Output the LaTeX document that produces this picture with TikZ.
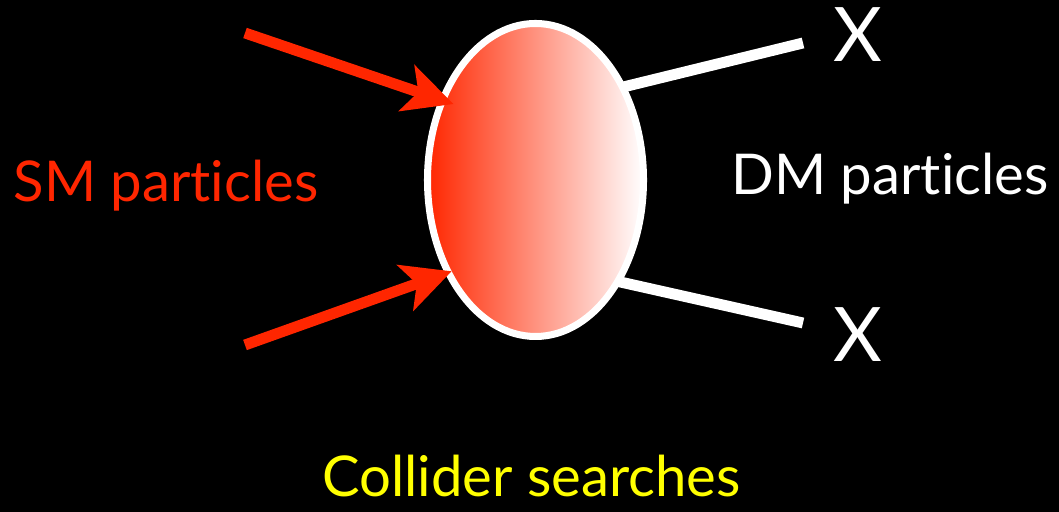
\documentclass[tikz,border=0pt]{standalone}
\usepackage{fontspec}
\setmainfont[RawFeature={-liga;-clig;-calt;-dlig;-rlig}]{Lato}
\usetikzlibrary{arrows.meta,shapes.geometric}
\definecolor{smred}{RGB}{255,38,0}
\definecolor{colyellow}{RGB}{255,255,0}

\begin{document}
\begin{tikzpicture}[lbl/.style={font=\fontsize{16}{19}\selectfont,inner sep=0,anchor=base},xlbl/.style={font=\fontsize{21.4}{24}\selectfont,inner sep=0,anchor=base,text=white},smarrow/.style={draw=smred,line width=3.1pt,-{Stealth[length=.49cm,width=.48cm,inset=.12cm]}},dmline/.style={draw=white,line width=3.1pt}]
\useasboundingbox(0,0)rectangle(10.59,5.12);
\fill[black](0,0)rectangle(10.59,5.12);
\coordinate(sm1)at(2.45,4.79);\coordinate(sm2)at(2.45,1.67);\coordinate(dm1)at(8.03,4.69);\coordinate(dm2)at(8.03,1.89);
\node[ellipse,draw=white,line width=2pt,minimum width=2.16cm,minimum height=3.13cm,inner sep=0,left color=smred,right color=white](blob)at(5.355,3.32){};
\draw[dmline,shorten <=-.04cm](blob.46)--(dm1);\draw[dmline,shorten <=-.04cm](blob.310)--(dm2);
\draw[smarrow,shorten >=-.15cm](sm1)--(blob.140);\draw[smarrow,shorten >=-.07cm](sm2)--(blob.226);
\node[lbl,text=smred](smtxt)at(1.66,3.10){SM particles};\node[lbl,text=white](dmtxt)at(8.90,3.17){DM particles};
\node[xlbl](x1)at(8.575,4.50){X};\node[xlbl](x2)at(8.575,1.50){X};
\node[lbl,text=colyellow](coltxt)at(5.315,0.15){Collider searches};
\end{tikzpicture}
\end{document}
